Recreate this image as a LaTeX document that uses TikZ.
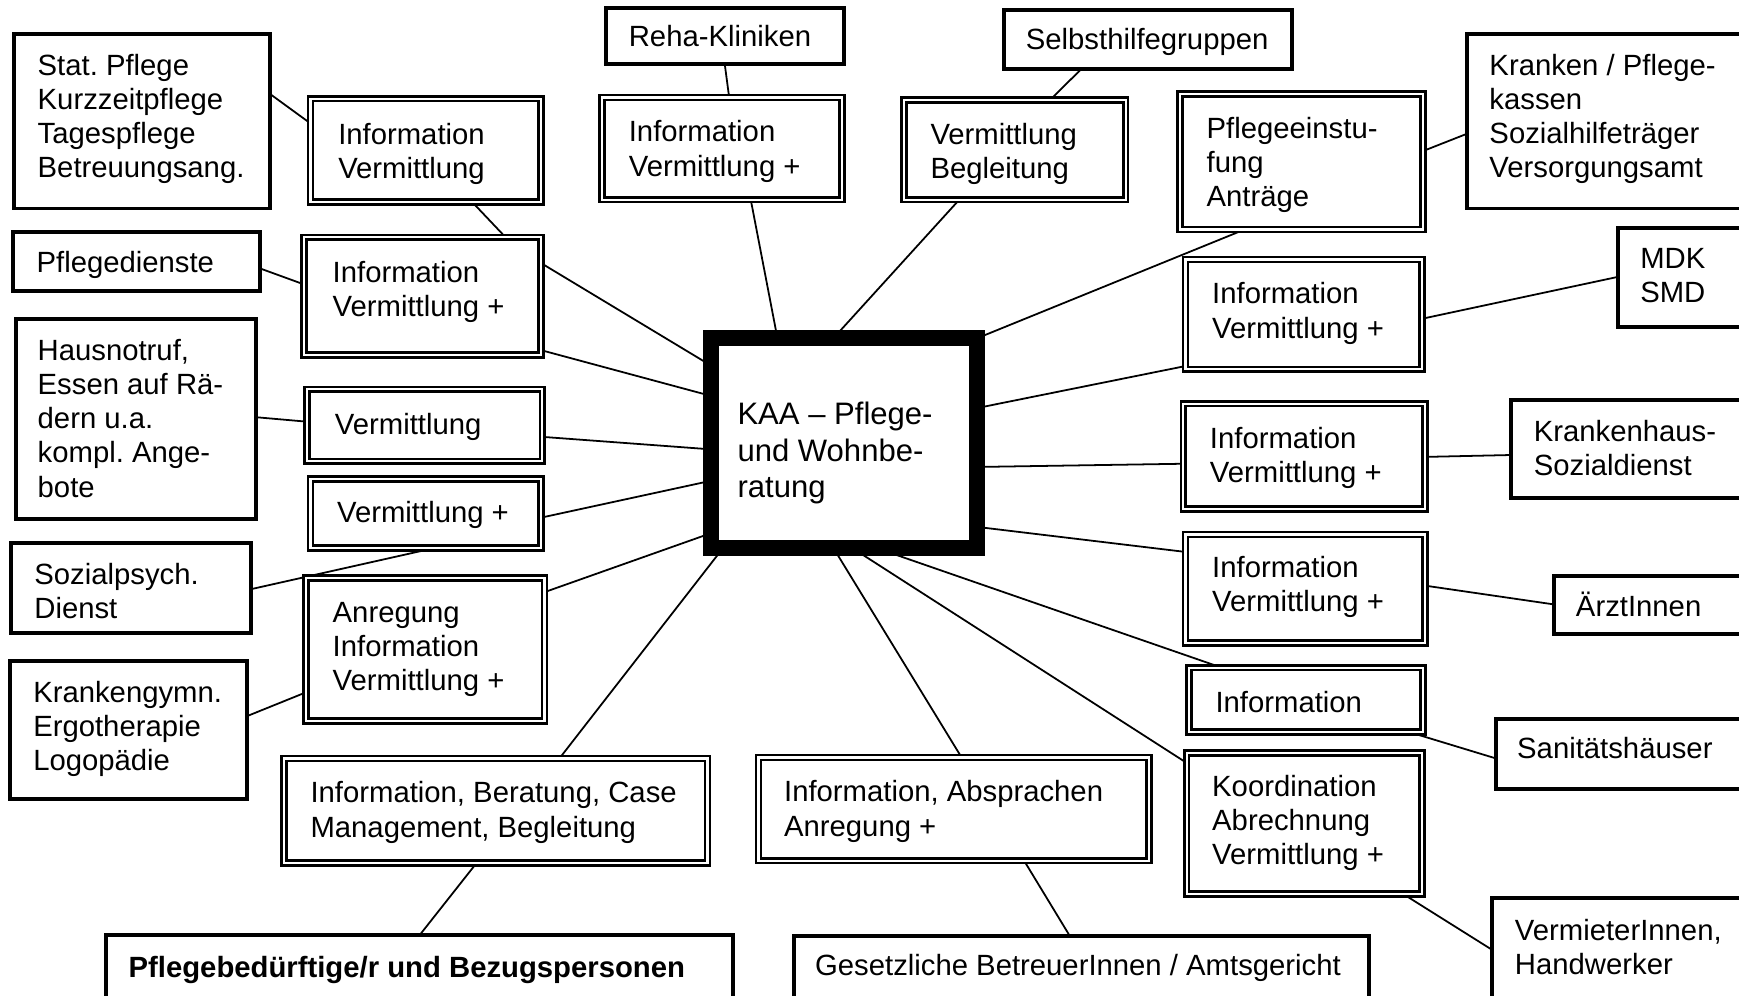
\documentclass[tikz,border=0pt]{standalone}
\usepackage{fontspec}
\setmainfont{Liberation Sans}
\usetikzlibrary{calc,backgrounds}
\frenchspacing
% #1 name, #2 style, #3 x1, #4 y1, #5 x2, #6 y2, #7 text left x, #8 first baseline y, #9 text
\newcommand\bx[9]{\node[#2, anchor=north west, inner sep=0pt, outer sep=0pt] (#1) at (#3,#4)
 {\parbox[b][\dimexpr(#6pt-#4pt)/2\relax][t]{\dimexpr(#5pt-#3pt)/2\relax}{%
 \vspace*{\dimexpr(#8pt+2pt-#4pt)/2-\ht\strutbox\relax}%
 \raggedright\frenchspacing\leftskip=\dimexpr(#7pt-#3pt)/2\relax\strut #9}};}
\newcommand\lk[8]{\draw[conn] ($(#1.#2)!#3!(#1.#4)$) -- ($(#5.#6)!#7!(#5.#8)$);}
\tikzset{
 sbox/.style={draw, fill=white, line width=1.8pt, font=\fontsize{13.2}{15.4}\selectfont},
 dbox/.style={draw, fill=white, double, line width=1.2pt, double distance=1pt, font=\fontsize{13.2}{15.4}\selectfont},
 kbox/.style={draw, fill=white, line width=7.2pt, font=\fontsize{14}{16.5}\selectfont},
 conn/.style={line width=0.8pt}
}
\begin{document}
\begin{tikzpicture}[x=0.5pt,y=-0.5pt]
\useasboundingbox (0,0) rectangle (1568,898);
\clip (0,0) rectangle (1568,898);
% left column
\bx{stat}{sbox}{13}{31}{243}{188}{34}{66}{Stat. Pflege\\Kurzzeitpflege\\Tagespflege\\Betreuungsang.}
\bx{pfd}{sbox}{12}{209}{234}{262}{33}{244}{Pflegedienste}
\bx{haus}{sbox}{14}{288}{231}{468}{34}{323}{Hausnotruf,\\Essen auf Rä-\\dern u.a.\\kompl. Ange-\\bote}
\bx{sozp}{sbox}{10}{490}{226}{571}{31}{525}{Sozialpsych.\\Dienst}
\bx{kgym}{sbox}{9}{596}{223}{720}{30}{631}{Krankengymn.\\Ergotherapie\\Logopädie}
% middle left
\bx{b6}{dbox}{280}{89}{488}{182}{305}{128}{Information\\Vermittlung}
\bx{b7}{dbox}{274}{214}{488}{320}{300}{253}{Information\\Vermittlung +}
\bx{b8}{dbox}{277}{351}{489}{416}{302}{390}{Vermittlung}
\bx{b9}{dbox}{280}{432}{488}{494}{304}{469}{Vermittlung +}
\bx{b10}{dbox}{276}{521}{491}{650}{300}{559}{Anregung\\Information\\Vermittlung +}
% top
\bx{reha}{sbox}{546}{7}{761}{58}{567}{40}{Reha-Kliniken}
\bx{b12}{dbox}{543}{88}{759}{180}{567}{126}{Information\\Vermittlung +}
\bx{selb}{sbox}{905}{9}{1165}{62}{925}{43}{Selbsthilfegruppen}
\bx{b14}{dbox}{815}{90}{1015}{180}{839}{128}{Vermittlung\\Begleitung}
\bx{b15}{dbox}{1064}{85}{1283}{207}{1088}{123}{Pflegeeinstu-\\fung\\Anträge}
% right
\bx{kran}{sbox}{1323}{31}{1600}{188}{1343}{66}{Kranken / Pflege-\\kassen\\Sozialhilfeträger\\Versorgungsamt}
\bx{b17}{dbox}{1069}{234}{1282}{333}{1093}{272}{Information\\Vermittlung +}
\bx{mdk}{sbox}{1459}{206}{1600}{295}{1479}{240}{MDK\\SMD}
\bx{b19}{dbox}{1067}{364}{1285}{459}{1091}{402}{Information\\Vermittlung +}
\bx{khs}{sbox}{1362}{361}{1600}{449}{1383}{396}{Krankenhaus-\\Sozialdienst}
\bx{b21}{dbox}{1069}{482}{1285}{580}{1093}{519}{Information\\Vermittlung +}
\bx{arzt}{sbox}{1401}{519}{1600}{572}{1421}{553}{ÄrztInnen}
\bx{b23}{dbox}{1072}{602}{1283}{660}{1096}{640}{Information}
\bx{sani}{sbox}{1349}{648}{1600}{711}{1368}{682}{Sanitätshäuser}
\bx{b25}{dbox}{1070}{679}{1282}{806}{1093}{716}{Koordination\\Abrechnung\\Vermittlung +}
\bx{verm}{sbox}{1345}{810}{1600}{920}{1366}{846}{VermieterInnen,\\Handwerker}
% bottom
\bx{b27}{dbox}{256}{684}{638}{778}{280}{722}{Information, Beratung, Case\\Management, Begleitung}
\bx{b28}{dbox}{684}{683}{1036}{776}{707}{721}{Information, Absprachen\\Anregung +}
\bx{pfb}{sbox}{96}{843}{661}{920}{116}{879}{\textbf{Pflegebedürftige/r und Bezugspersonen}}
\bx{ges}{sbox}{716}{844}{1234}{920}{735}{878}{Gesetzliche BetreuerInnen / Amtsgericht}
% centre
\bx{kaa}{kbox}{641}{305}{881}{494}{665}{381}{KAA – Pflege-\\und Wohnbe-\\ratung}
\begin{scope}[on background layer]
\lk{stat}{north east}{0.34}{south east}{b6}{north west}{0.24}{south west}
\lk{b6}{south west}{0.70}{south east}{b7}{north west}{0.85}{north east}
\lk{b7}{north east}{0.22}{south east}{kaa}{north west}{0.13}{south west}
\lk{b7}{north east}{0.96}{south east}{kaa}{north west}{0.275}{south west}
\lk{pfd}{north east}{0.62}{south east}{b7}{north west}{0.40}{south west}
\lk{haus}{north east}{0.49}{south east}{b8}{north west}{0.45}{south west}
\lk{b8}{north east}{0.66}{south east}{kaa}{north west}{0.53}{south west}
\lk{b9}{north east}{0.56}{south east}{kaa}{north west}{0.68}{south west}
\lk{sozp}{north east}{0.51}{south east}{b9}{south west}{0.54}{south east}
\lk{b10}{north east}{0.10}{south east}{kaa}{north west}{0.93}{south west}
\lk{kgym}{north east}{0.40}{south east}{b10}{north west}{0.80}{south west}
\lk{kaa}{south west}{0.046}{south east}{b27}{north west}{0.65}{north east}
\lk{b27}{south west}{0.455}{south east}{pfb}{north west}{0.50}{north east}
\lk{kaa}{south west}{0.46}{south east}{b28}{north west}{0.52}{north east}
\lk{b28}{south west}{0.68}{south east}{ges}{north west}{0.48}{north east}
\lk{kaa}{south west}{0.62}{south east}{b23}{north west}{0.14}{north east}
\lk{kaa}{south west}{0.53}{south east}{b25}{north west}{0.07}{south west}
\lk{kaa}{north east}{0.90}{south east}{b21}{north west}{0.16}{south west}
\lk{kaa}{north east}{0.614}{south east}{b19}{north west}{0.57}{south west}
\lk{kaa}{north east}{0.333}{south east}{b17}{north west}{0.97}{south west}
\lk{kaa}{north east}{0.0}{south east}{b15}{south west}{0.265}{south east}
\lk{kaa}{north west}{0.46}{north east}{b14}{south west}{0.25}{south east}
\lk{kaa}{north west}{0.25}{north east}{b12}{south west}{0.62}{south east}
\lk{b12}{north west}{0.53}{north east}{reha}{south west}{0.50}{south east}
\lk{b14}{north west}{0.66}{north east}{selb}{south west}{0.27}{south east}
\lk{b15}{north east}{0.42}{south east}{kran}{north west}{0.57}{south west}
\lk{b17}{north east}{0.54}{south east}{mdk}{north west}{0.49}{south west}
\lk{b19}{north east}{0.505}{south east}{khs}{north west}{0.56}{south west}
\lk{b21}{north east}{0.47}{south east}{arzt}{north west}{0.49}{south west}
\lk{b23}{south west}{0.94}{south east}{sani}{north west}{0.57}{south west}
\lk{b25}{south west}{0.92}{south east}{verm}{north west}{0.42}{south west}
\end{scope}
\end{tikzpicture}
\end{document}
